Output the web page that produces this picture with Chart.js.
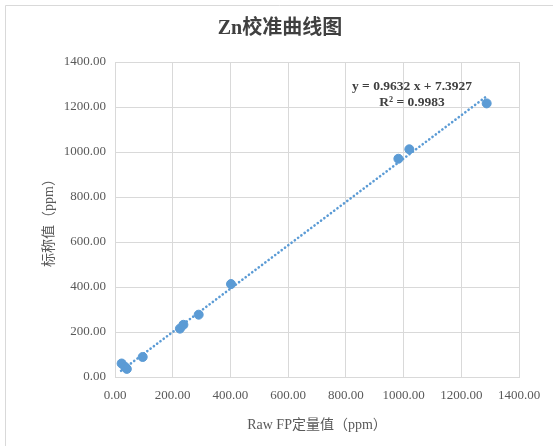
<!DOCTYPE html>
<html>
<head>
<meta charset="utf-8">
<script src="https://cdn.jsdelivr.net/npm/chart.js@4.4.1/dist/chart.umd.min.js"></script>
<style>
html,body{margin:0;padding:0;background:#fff;}
#c{display:block;}
</style>
</head>
<body>
<canvas id="c" width="553" height="446"></canvas>
<script>
// ---- data ----
const rawFP   = [23, 35, 41, 96, 225, 237, 290, 402, 982, 1020, 1288];
const nominal = [60, 45, 36, 89, 215, 232, 277, 413, 970, 1012, 1216];
const trendX  = [21, 1288];
const trendY  = [27.6, 1248.0];
const xTicks  = [0, 200, 400, 600, 800, 1000, 1200, 1400];
const yTicks  = [0, 200, 400, 600, 800, 1000, 1200, 1400];
const titleText = 'Zn校准曲线图';
const xTitle = 'Raw FP定量值（ppm）';
const yTitle = '标称值（ppm）';
const eqLines = ['y = 0.9632 x + 7.3927', 'R² = 0.9983'];

const BLUE = '#5B9BD5';
const GRID = '#D9D9D9';
const TXT = '#595959';
const LATIN = "'Liberation Serif', 'Noto Sans CJK SC', serif";

const points = rawFP.map((x, i) => ({x, y: nominal[i]}));
const trend = trendX.map((x, i) => ({x, y: trendY[i]}));

const framePlugin = {
  id: 'frame',
  beforeDraw(chart) {
    const ctx = chart.ctx;
    ctx.save();
    ctx.fillStyle = '#fff';
    ctx.fillRect(0, 0, chart.width, chart.height);
    ctx.strokeStyle = GRID;
    ctx.lineWidth = 1;
    ctx.beginPath();
    ctx.moveTo(5.5, chart.height);
    ctx.lineTo(5.5, 5.5);
    ctx.lineTo(chart.width, 5.5);
    ctx.stroke();
    // chart title
    ctx.fillStyle = '#404040';
    ctx.font = "bold 20px " + LATIN;
    ctx.textAlign = 'center';
    ctx.textBaseline = 'middle';
    ctx.fillText(titleText, 280, 29);
    ctx.restore();
  },
  afterDatasetsDraw(chart) {
    const ctx = chart.ctx;
    ctx.save();
    ctx.fillStyle = '#404040';
    ctx.font = "bold 13.5px " + LATIN;
    ctx.textAlign = 'center';
    ctx.textBaseline = 'middle';
    ctx.fillText(eqLines[0], 412, 87);
    ctx.fillText(eqLines[1], 412, 103);
    ctx.restore();
  }
};

new Chart(document.getElementById('c'), {
  type: 'scatter',
  data: {
    datasets: [
      {
        type: 'scatter',
        data: points,
        backgroundColor: BLUE,
        borderColor: BLUE,
        pointRadius: 4.5,
        pointHoverRadius: 4.5,
        order: 1
      },
      {
        type: 'line',
        data: trend,
        borderColor: BLUE,
        borderWidth: 2.6,
        borderDash: [0.1, 4],
        borderCapStyle: 'round',
        pointRadius: 0,
        fill: false,
        order: 2
      }
    ]
  },
  options: {
    responsive: false,
    animation: false,
    events: [],
    layout: { padding: { left: 0, right: 34, top: 62, bottom: 0 } },
    plugins: {
      legend: { display: false },
      tooltip: { enabled: false },
      title: { display: false }
    },
    scales: {
      x: {
        type: 'linear',
        min: 0, max: 1400,
        afterBuildTicks(axis) { axis.ticks = xTicks.map(v => ({value: v})); },
        afterFit(axis) { axis.height = 69; },
        ticks: {
          padding: 11,
          color: TXT,
          font: { family: LATIN, size: 13 },
          callback: v => Number(v).toFixed(2),
          maxRotation: 0
        },
        grid: { color: GRID, drawTicks: false },
        border: { color: GRID },
        title: {
          display: true,
          text: xTitle,
          color: TXT,
          font: { family: LATIN, size: 14, lineHeight: 1.2 },
          padding: { top: 0, bottom: 12 }
        }
      },
      y: {
        type: 'linear',
        min: 0, max: 1400,
        afterBuildTicks(axis) { axis.ticks = yTicks.map(v => ({value: v})); },
        afterFit(axis) { axis.width = 115; },
        ticks: {
          padding: 9,
          color: TXT,
          font: { family: LATIN, size: 13 },
          callback: v => Number(v).toFixed(2)
        },
        grid: { color: GRID, drawTicks: false },
        border: { color: GRID },
        title: {
          display: true,
          text: yTitle,
          color: TXT,
          font: { family: LATIN, size: 14, lineHeight: 1.2 },
          padding: { top: 41, bottom: 0 }
        }
      }
    }
  },
  plugins: [framePlugin]
});
</script>
</body>
</html>
